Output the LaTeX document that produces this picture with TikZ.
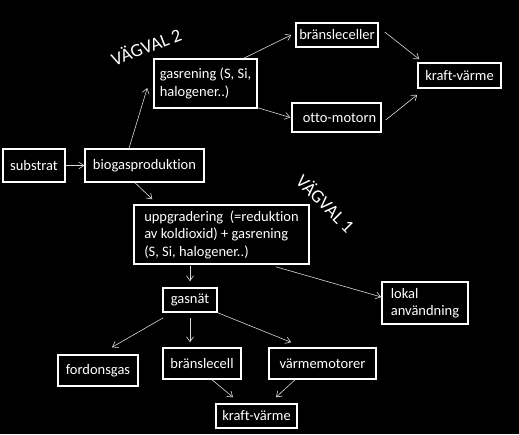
\documentclass[tikz,border=0pt]{standalone}
\usepackage{fontspec}
\setmainfont{Carlito}[Ligatures={NoCommon}]
\usetikzlibrary{arrows.meta}
\begin{document}
\begin{tikzpicture}[x=1pt,y=-1pt,
  box/.style={draw=white, line width=1.5pt, text=white, inner xsep=2pt, inner ysep=0pt,
    font=\fontsize{14.5}{17.5}\selectfont, anchor=center},
  lbox/.style={box, align=left},
  conn/.style={draw=white!85!black, line width=0.6pt, -{Straight Barb[length=5pt,width=7pt]}},
  vag/.style={text=white, font=\fontsize{18.5}{20}\selectfont}]
\fill[black] (0,0) rectangle (519,434);
\useasboundingbox (0,0) rectangle (519,434);

\node[box, minimum width=62pt, minimum height=33pt] (sub) at (34,165.5) {substrat};
\node[box, minimum width=119pt, minimum height=33pt] (bio) at (144.5,165.5) {biogasproduktion};
\node[lbox, minimum width=103pt, minimum height=49pt] (gr) at (205.5,83.5) {gasrening (S, Si,\\halogener..)};
\node[box, minimum width=82pt, minimum height=24pt] (bc) at (337,35) {bränsleceller};
\node[box, minimum width=83pt, minimum height=25pt] (kv1) at (459.5,75.5) {kraft-värme};
\node[box, minimum width=89pt, minimum height=29pt] (otto) at (336.5,117.5) {\hspace{6pt}otto-motorn};
\node[lbox, minimum width=175pt, minimum height=59pt] (upp) at (221.5,234.5) {uppgradering\ \ (=reduktion\\av koldioxid) + gasrening\\(S, Si, halogener..)};
\node[box, minimum width=54pt, minimum height=24pt] (gn) at (190,300) {gasnät};
\node[box, minimum width=80pt, minimum height=31pt] (fg) at (98,370.5) {fordonsgas};
\node[box, minimum width=78pt, minimum height=31pt] (bcell) at (202,363.5) {bränslecell};
\node[box, minimum width=107pt, minimum height=31pt] (vm) at (322.5,363.5) {värmemotorer};
\node[box, minimum width=81pt, minimum height=24pt] (kv2) at (256.5,416) {kraft-värme};
\node[lbox, minimum width=86pt, minimum height=42pt] (lok) at (425,303) {lokal\\användning};

\node[vag, rotate=21] (v2) at (146,46) {VÄGVAL 2};
\node[vag, rotate=-45] (v1) at (326,203) {VÄGVAL 1};

\draw[conn] (sub.east) -- (bio.west);
\draw[conn] ([shift={(-15.5,0)}]bio.north) -- ([shift={(-6,4.5)}]gr.west);
\draw[conn] ([shift={(-9.5,0)}]bio.south) -- ([shift={(19,-5)}]upp.north west);
\draw[conn] ([shift={(-14,0)}]gr.north east) -- ([shift={(-4,0)}]bc.west);
\draw[conn] ([shift={(0,-1)}]gr.south east) -- ([shift={(-1,0)}]otto.west);
\draw[conn] ([shift={(6,-3)}]bc.east) -- ([shift={(2,-3)}]kv1.north west);
\draw[conn] ([shift={(4,2.5)}]otto.east) -- ([shift={(0,6)}]kv1.south west);
\draw[conn] ([shift={(-31.5,1)}]upp.south) -- ([shift={(0,-6)}]gn.north);
\draw[conn] ([shift={(-34,2)}]upp.south east) -- ([shift={(0,-6)}]lok.west);
\draw[conn] ([shift={(1,5)}]gn.south west) -- ([shift={(14,-7)}]fg.north);
\draw[conn] ([shift={(0,5)}]gn.south) -- ([shift={(-12,-5)}]bcell.north);
\draw[conn] (gn.south east) -- ([shift={(-31.5,-5)}]vm.north);
\draw[conn] ([shift={(10,0)}]bcell.south) -- ([shift={(-23.5,-6)}]kv2.north);
\draw[conn] ([shift={(-27.5,0)}]vm.south) -- ([shift={(19.5,-6)}]kv2.north);
\end{tikzpicture}
\end{document}
